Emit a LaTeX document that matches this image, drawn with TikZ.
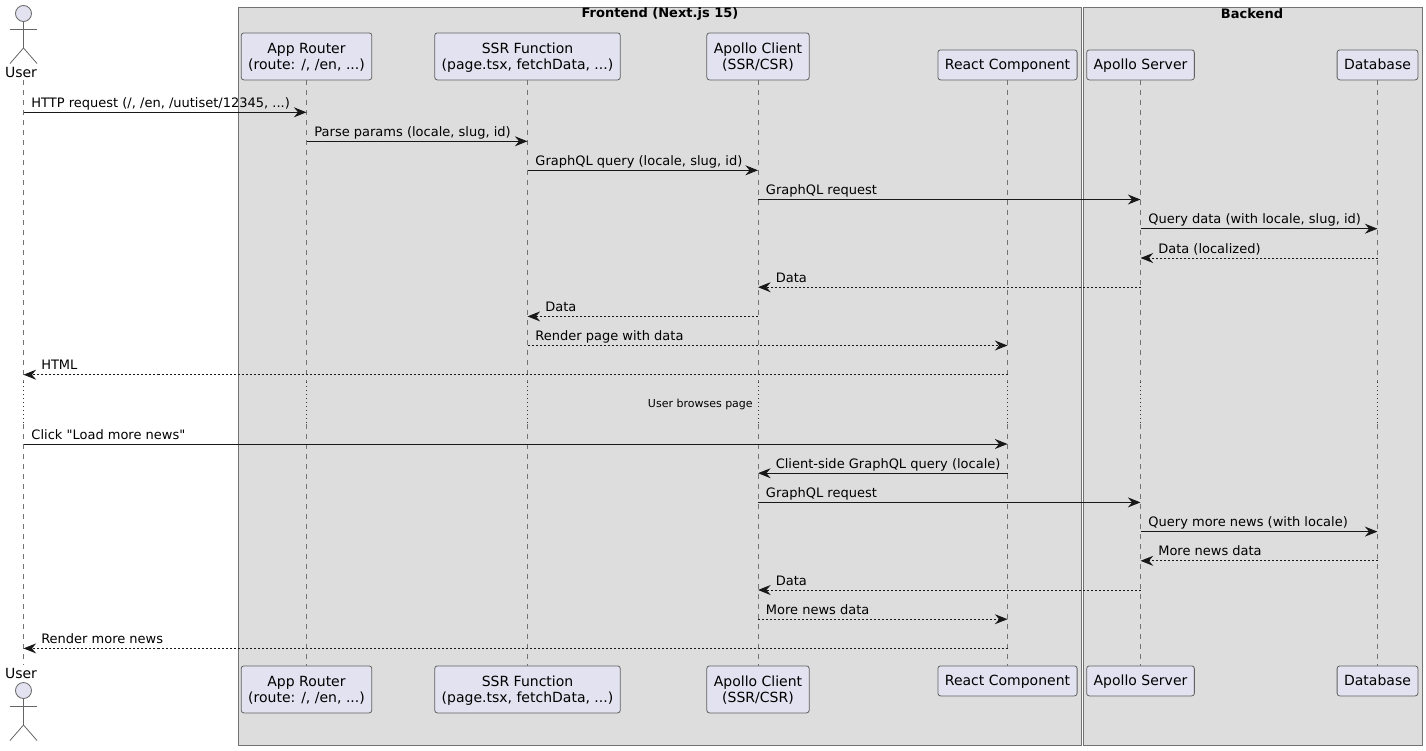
\documentclass[tikz,border=0pt]{standalone}
\usepackage{fontspec}
\setmainfont[Ligatures=TeXOff]{DejaVu Sans}
\usetikzlibrary{positioning, arrows.meta}

\tikzset{
  band/.style={draw=black!55, line width=0.75pt, fill=black!13.5},
  bandtitle/.style={font=\fontsize{9.75}{12}\selectfont\bfseries, inner sep=0pt},
  party/.style={draw=black!62, line width=0.6pt, rounded corners=2pt, fill=partyfill, align=center,
    font=\fontsize{10.5}{12.2}\selectfont, inner xsep=5.25pt, inner ysep=0pt, minimum height=22.5pt,
    text height=8.5pt, text depth=1.7pt},
  tallparty/.style={party, minimum height=35.25pt, text height=21.5pt, text depth=1.5pt},
  actorpart/.style={draw=black!60, line width=0.6pt},
  actorname/.style={font=\fontsize{10.5}{12}\selectfont, inner sep=0pt},
  lifeline/.style={draw=black!55, line width=0.5pt, dash pattern=on 3.75pt off 3.75pt},
  pauseline/.style={draw=black!80, line width=0.6pt, dash pattern=on 0.75pt off 2.25pt},
  callmsg/.style={draw=msgcolor, line width=0.75pt, -{Stealth[length=9.5pt, width=7.5pt, inset=3.2pt]}},
  replymsg/.style={callmsg, dash pattern=on 1.5pt off 1.5pt},
  msglabel/.style={anchor=base west, font=\fontsize{9.75}{12}\selectfont, inner sep=0pt},
}
\definecolor{partyfill}{HTML}{E2E2F0}
\definecolor{msgcolor}{HTML}{181818}

\begin{document}
\begin{tikzpicture}[x=0.75pt, y=-0.75pt]
  \useasboundingbox (0,0) rectangle (1426,750);

  % boxes behind everything
  \draw[band] (238.5,7) rectangle (1081.5,745.5);
  \draw[band] (1083.5,7) rectangle (1422,745.5);
  \node[bandtitle] (frontendTitle) at (660,13.5) {Frontend (Next.js 15)};
  \node[bandtitle] (backendTitle) at (1252,13.5) {Backend};

  % participants, top
  \node[tallparty, anchor=south] (router) at (306.5,80.3) {App Router\\(route: /, /en, ...)};
  \node[tallparty, anchor=south] (ssr) at (527.5,80.3) {SSR Function\\(page.tsx, fetchData, ...)};
  \node[tallparty, anchor=south] (client) at (758,80.3) {Apollo Client\\(SSR/CSR)};
  \node[party, anchor=south] (react) at (1007.5,80.3) {React Component};
  \node[party, anchor=south] (server) at (1140.5,80.3) {Apollo Server};
  \node[party, anchor=south] (db) at (1377.5,80.3) {Database};

  % participants, bottom
  \node[tallparty, anchor=north] (routerB) at (306.5,665.5) {App Router\\(route: /, /en, ...)};
  \node[tallparty, anchor=north] (ssrB) at (527.5,665.5) {SSR Function\\(page.tsx, fetchData, ...)};
  \node[tallparty, anchor=north] (clientB) at (758,665.5) {Apollo Client\\(SSR/CSR)};
  \node[party, anchor=north] (reactB) at (1007.5,665.5) {React Component};
  \node[party, anchor=north] (serverB) at (1140.5,665.5) {Apollo Server};
  \node[party, anchor=north] (dbB) at (1377.5,665.5) {Database};

  % actor, top
  \node[actorname] (userName) at (21,72.5) {User};
  \node[actorpart, circle, fill=partyfill, inner sep=0pt, minimum size=12pt] (userHead) at (23.5,13.5) {};
  \coordinate (userHip) at (23.5,48);
  \coordinate (userTop) at (23.5,80);
  \draw[actorpart] (userHead.south) -- (userHip);
  \draw[actorpart] (10,29) -- (37,29);
  \draw[actorpart] (10,63.5) -- (userHip) -- (37,63.5);

  % actor, bottom
  \node[actorname] (userNameB) at (21,673) {User};
  \node[actorpart, circle, fill=partyfill, inner sep=0pt, minimum size=12pt] (userHeadB) at (23.5,690.5) {};
  \coordinate (userHipB) at (23.5,725);
  \coordinate (userBot) at (23.5,665);
  \draw[actorpart] (userHeadB.south) -- (userHipB);
  \draw[actorpart] (10,706) -- (37,706);
  \draw[actorpart] (10,740.5) -- (userHipB) -- (37,740.5);

  % where the lifelines turn dotted
  \coordinate (d1) at (0,382);
  \coordinate (d2) at (0,424);

  \draw[lifeline] (userTop) -- (userTop |- d1) (userTop |- d2) -- (userBot);
  \draw[lifeline] (router.south) -- (router |- d1) (router |- d2) -- (routerB.north);
  \draw[lifeline] (ssr.south) -- (ssr |- d1) (ssr |- d2) -- (ssrB.north);
  \draw[lifeline] (client.south) -- (client |- d1) (client |- d2) -- (clientB.north);
  \draw[lifeline] (react.south) -- (react |- d1) (react |- d2) -- (reactB.north);
  \draw[lifeline] (server.south) -- (server |- d1) (server |- d2) -- (serverB.north);
  \draw[lifeline] (db.south) -- (db |- d1) (db |- d2) -- (dbB.north);

  \draw[pauseline] (userTop |- d1) -- (userTop |- d2);
  \draw[pauseline] (router |- d1) -- (router |- d2);
  \draw[pauseline] (ssr |- d1) -- (ssr |- d2);
  \draw[pauseline] (client |- d1) -- (client |- d2);
  \draw[pauseline] (react |- d1) -- (react |- d2);
  \draw[pauseline] (server |- d1) -- (server |- d2);
  \draw[pauseline] (db |- d1) -- (db |- d2);

  \node[anchor=east, font=\fontsize{8.25}{10}\selectfont, inner sep=0pt] (browseNote) at (753,404) {User browses page};

  % message rows
  \coordinate (r1) at (0,112.3);
  \coordinate (r2) at (0,141.3);
  \coordinate (r3) at (0,170.3);
  \coordinate (r4) at (0,199.5);
  \coordinate (r5) at (0,228.7);
  \coordinate (r6) at (0,258);
  \coordinate (r7) at (0,287.2);
  \coordinate (r8) at (0,316.4);
  \coordinate (r9) at (0,345.5);
  \coordinate (r10) at (0,374.7);
  \coordinate (r11) at (0,444);
  \coordinate (r12) at (0,473.2);
  \coordinate (r13) at (0,502.4);
  \coordinate (r14) at (0,531.6);
  \coordinate (r15) at (0,560.8);
  \coordinate (r16) at (0,590);
  \coordinate (r17) at (0,619.2);
  \coordinate (r18) at (0,648.4);

  % first request
  \draw[callmsg] (userTop |- r1) -- (router |- r1);
  \node[msglabel] (m1) at ([shift={(7.7,-5)}]userTop |- r1) {HTTP request (/, /en, /uutiset/12345, ...)};
  \draw[callmsg] (router |- r2) -- (ssr |- r2);
  \node[msglabel] (m2) at ([shift={(7.7,-5)}]router |- r2) {Parse params (locale, slug, id)};
  \draw[callmsg] (ssr |- r3) -- (client |- r3);
  \node[msglabel] (m3) at ([shift={(7.7,-5)}]ssr |- r3) {GraphQL query (locale, slug, id)};
  \draw[callmsg] (client |- r4) -- (server |- r4);
  \node[msglabel] (m4) at ([shift={(7.7,-5)}]client |- r4) {GraphQL request};
  \draw[callmsg] (server |- r5) -- (db |- r5);
  \node[msglabel] (m5) at ([shift={(7.7,-5)}]server |- r5) {Query data (with locale, slug, id)};
  \draw[replymsg] (db |- r6) -- (server |- r6);
  \node[msglabel] (m6) at ([shift={(17.5,-5)}]server |- r6) {Data (localized)};
  \draw[replymsg] (server |- r7) -- (client |- r7);
  \node[msglabel] (m7) at ([shift={(17.5,-5)}]client |- r7) {Data};
  \draw[replymsg] (client |- r8) -- (ssr |- r8);
  \node[msglabel] (m8) at ([shift={(17.5,-5)}]ssr |- r8) {Data};
  \draw[replymsg] (ssr |- r9) -- (react |- r9);
  \node[msglabel] (m9) at ([shift={(7.7,-5)}]ssr |- r9) {Render page with data};
  \draw[replymsg] (react |- r10) -- (userTop |- r10);
  \node[msglabel] (m10) at ([shift={(17.5,-5)}]userTop |- r10) {HTML};

  % load more
  \draw[callmsg] (userTop |- r11) -- (react |- r11);
  \node[msglabel] (m11) at ([shift={(7.7,-5)}]userTop |- r11) {Click "Load more news"};
  \draw[callmsg] (react |- r12) -- (client |- r12);
  \node[msglabel] (m12) at ([shift={(17.5,-5)}]client |- r12) {Client-side GraphQL query (locale)};
  \draw[callmsg] (client |- r13) -- (server |- r13);
  \node[msglabel] (m13) at ([shift={(7.7,-5)}]client |- r13) {GraphQL request};
  \draw[callmsg] (server |- r14) -- (db |- r14);
  \node[msglabel] (m14) at ([shift={(7.7,-5)}]server |- r14) {Query more news (with locale)};
  \draw[replymsg] (db |- r15) -- (server |- r15);
  \node[msglabel] (m15) at ([shift={(17.5,-5)}]server |- r15) {More news data};
  \draw[replymsg] (server |- r16) -- (client |- r16);
  \node[msglabel] (m16) at ([shift={(17.5,-5)}]client |- r16) {Data};
  \draw[replymsg] (client |- r17) -- (react |- r17);
  \node[msglabel] (m17) at ([shift={(7.7,-5)}]client |- r17) {More news data};
  \draw[replymsg] (react |- r18) -- (userTop |- r18);
  \node[msglabel] (m18) at ([shift={(17.5,-5)}]userTop |- r18) {Render more news};
\end{tikzpicture}
\end{document}
